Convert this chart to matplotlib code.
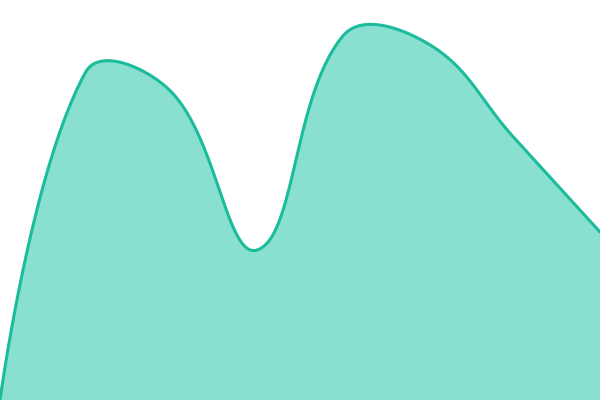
import numpy as np
import matplotlib
matplotlib.use("Agg")
from matplotlib import pyplot as plt

# values, on a 0..100 scale
index = [0, 1, 2, 3, 4, 5, 6, 7]
values = [0, 82, 77, 37.5, 91, 89, 65.5, 42]

line_col = "#1abc9c"
fill_col = "#8ae0d0"
tension = 0.4

fig = plt.figure(figsize=(6, 4), dpi=100)
ax = fig.add_axes([0, 0, 1, 1])
ax.set_xlim(0, 7)
ax.set_ylim(0, 100)
ax.axis("off")

# spline control points (chart.js style), distances measured in pixels
to_px = ax.transData.transform
pts = to_px(np.column_stack([index, values]))
n = len(pts)
cp_prev = pts.copy()
cp_next = pts.copy()
for i in range(1, n - 1):
    p0, p1, p2 = pts[i - 1], pts[i], pts[i + 1]
    d01 = np.hypot(*(p1 - p0))
    d12 = np.hypot(*(p2 - p1))
    s01 = d01 / (d01 + d12)
    s12 = d12 / (d01 + d12)
    cp_prev[i] = p1 - tension * s01 * (p2 - p0)
    cp_next[i] = p1 + tension * s12 * (p2 - p0)

bbox = ax.bbox
cp_prev[:, 0] = np.clip(cp_prev[:, 0], bbox.x0, bbox.x1)
cp_next[:, 0] = np.clip(cp_next[:, 0], bbox.x0, bbox.x1)
cp_prev[:, 1] = np.clip(cp_prev[:, 1], bbox.y0, bbox.y1)
cp_next[:, 1] = np.clip(cp_next[:, 1], bbox.y0, bbox.y1)

t = np.linspace(0, 1, 60)[:, None]
curve = []
for i in range(n - 1):
    a, b, c, d = pts[i], cp_next[i], cp_prev[i + 1], pts[i + 1]
    seg = (1 - t) ** 3 * a + 3 * (1 - t) ** 2 * t * b + 3 * (1 - t) * t ** 2 * c + t ** 3 * d
    curve.append(seg if i == 0 else seg[1:])
curve = ax.transData.inverted().transform(np.vstack(curve))

ax.fill_between(curve[:, 0], curve[:, 1], 0, color=fill_col, linewidth=0)
ax.plot(curve[:, 0], curve[:, 1], color=line_col, linewidth=2.2, solid_capstyle="round")

plt.savefig("out.png", dpi=100)
